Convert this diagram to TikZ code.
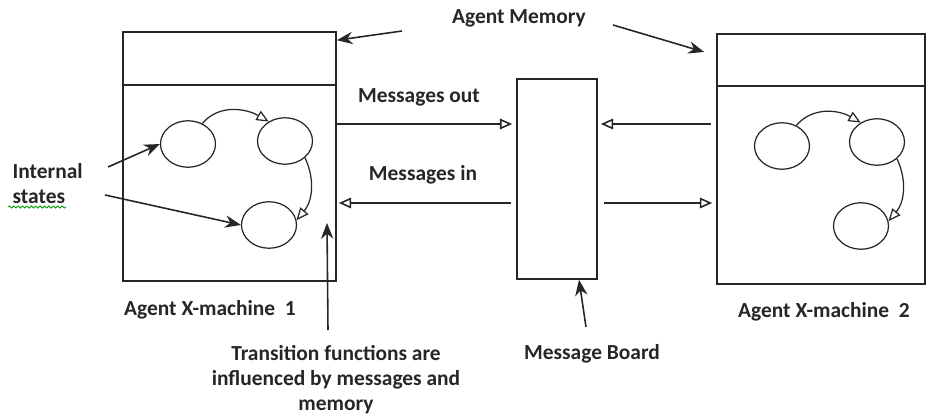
\documentclass[tikz,border=0pt]{standalone}
\usepackage{fontspec}
\setmainfont{Carlito}
\usetikzlibrary{shapes.geometric,arrows.meta,decorations.pathmorphing}

\begin{document}
\begin{tikzpicture}[x=0.02cm,y=-0.02cm,line width=0.9pt,draw=black!85,
    box/.style={draw,inner sep=0},
    statenode/.style={draw,ellipse,line width=0.7pt,minimum width=1.1cm,minimum height=0.93cm,inner sep=0},
    txt/.style={font=\fontsize{12.2pt}{14.2pt}\selectfont\bfseries,text=black!85},
    trans/.style={line width=0.7pt,-{Triangle[open,length=7pt,width=6pt]}},
    msg/.style={-{Triangle[open,length=7pt,width=6pt]}},
    pointer/.style={-{Stealth[length=9pt,width=7pt]}}]
    \useasboundingbox (0,0) rectangle (927,415);
    \pgfmathsetmacro{\boxwidth}{213*0.02}
    \pgfmathsetmacro{\boxtwowidth}{208*0.02}
    % agent 1: memory on top of the machine
    \node[box,minimum width=\boxwidth cm,minimum height=1.06cm] (mem1) at (229.5,58.5) {};
    \node[box,minimum width=\boxwidth cm,minimum height=3.92cm] (body1) at (229.5,183) {};
    % agent 2
    \node[box,minimum width=\boxtwowidth cm,minimum height=1.04cm] (mem2) at (821,60) {};
    \node[box,minimum width=\boxtwowidth cm,minimum height=3.96cm] (body2) at (821,185) {};
    % message board
    \node[box,minimum width=1.6cm,minimum height=4cm] (board) at (557,179) {};

    % internal states
    \node[statenode] (a1) at (188,144) {};
    \node[statenode] (a2) at (285,141) {};
    \node[statenode] (a3) at (269,225) {};
    \node[statenode] (b1) at (782,146) {};
    \node[statenode] (b2) at (877,142) {};
    \node[statenode] (b3) at (861,226) {};
    \draw[trans] (a1.55) to[out=50,in=150] (a2.130);
    \draw[trans] (a2.-40) to[out=-65,in=50] (a3.10);
    \draw[trans] (b1.55) to[out=50,in=150] (b2.130);
    \draw[trans] (b2.-40) to[out=-65,in=50] (b3.10);

    % messages
    \coordinate (rowout) at (0,124);
    \coordinate (rowin) at (0,203);
    \draw[msg,shorten >=4*0.02cm] (body1.east |- rowout) -- (board.west |- rowout);
    \draw[msg,shorten <=5*0.02cm,shorten >=3*0.02cm] (body2.west |- rowout) -- (board.east |- rowout);
    \draw[msg,shorten <=5*0.02cm,shorten >=2*0.02cm] (board.west |- rowin) -- (body1.east |- rowin);
    \draw[msg,shorten <=6*0.02cm,shorten >=4*0.02cm] (board.east |- rowin) -- (body2.west |- rowin);

    % labels
    \node[txt] (memlabel) at (519,18) {Agent Memory};
    \node[txt] (outlabel) at (419,97) {Messages out};
    \node[txt] (inlabel) at (423,175) {Messages in};
    \node[txt,align=left,anchor=west] (statelabel) at (6,184) {Internal\\states};
    \node[txt] (x1label) at (210,310) {Agent X-machine~ 1};
    \node[txt] (x2label) at (824,312) {Agent X-machine~ 2};
    \node[txt,align=center] (trlabel) at (336,380) {Transition functions are\\influenced by messages and\\memory};
    \node[txt] (bdlabel) at (592,354) {Message Board};
    \draw[green!60!black,line width=0.5pt,decorate,decoration={snake,amplitude=0.6pt,segment length=2.5pt}]
        (8,207) -- (66,207);

    % pointers
    \coordinate (memtail1) at (402,31);
    \coordinate (memtail2) at (613,25);
    \coordinate (sttail1) at (108,167);
    \coordinate (sttail2) at (105,195);
    \coordinate (trtail) at (328,330);
    \coordinate (trtip) at (327,223);
    \coordinate (bdtail) at (586,327);
    \draw[pointer] (memtail1) -- ([yshift=-0.18cm]mem1.north east);
    \draw[pointer] (memtail2) -- ([xshift=-0.24cm,yshift=0.16cm]mem2.west);
    \draw[pointer] (sttail1) -- (a1.west);
    \draw[pointer] (sttail2) -- (a3.west);
    \draw[pointer] (trtail) -- (trtip);
    \draw[pointer] (bdtail) -- ([xshift=0.44cm]board.south);
\end{tikzpicture}
\end{document}
